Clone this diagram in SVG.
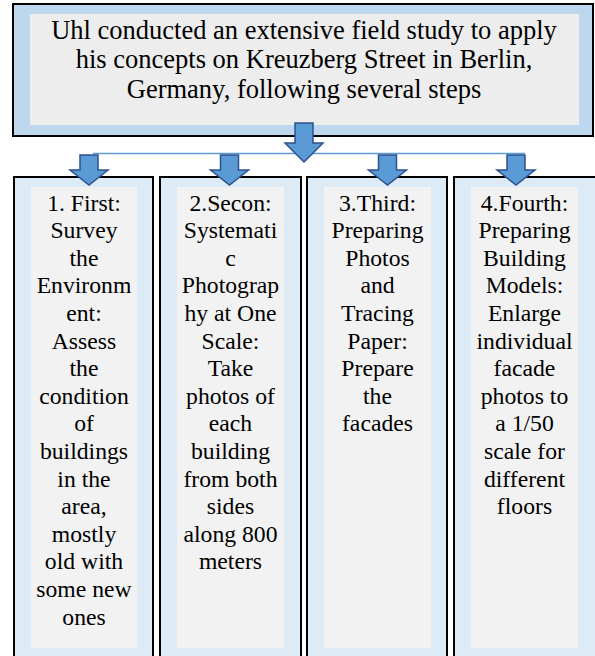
<svg xmlns="http://www.w3.org/2000/svg" width="595" height="656" viewBox="0 0 595 656">
<style>
.outer{fill:#BDD7EE;stroke:#000;stroke-width:2}
.cbox{fill:#DDEBF7;stroke:#000;stroke-width:2}
.inner{fill:#EDEDED}
.cinner{fill:#F2F2F2}
.t{font-family:"Liberation Serif","Times New Roman",serif;fill:#000;text-anchor:middle}
.tt{font-size:26.5px}
.ct{font-size:23.7px}
.arr{fill:#5B9BD5;stroke:#2F528F;stroke-width:1.5;stroke-linejoin:miter}
.hline{stroke:#5B9BD5;stroke-width:1.3;fill:none}
</style>
<rect width="595" height="656" fill="#fff"/>
<g id="top">
<rect class="outer" x="13" y="4" width="580" height="132"/>
<rect class="inner" x="30" y="14" width="549" height="111"/>
<text class="t tt" x="304" y="38.5">Uhl conducted an extensive field study to apply</text>
<text class="t tt" x="304" y="68">his concepts on Kreuzberg Street in Berlin,</text>
<text class="t tt" x="304" y="97.5">Germany, following several steps</text>
</g>
<g id="step1">
<rect class="cbox" x="14" y="177" width="139" height="510"/>
<rect class="cinner" x="31" y="187" width="106" height="461"/>
<text class="t ct" x="84" y="210.5"><tspan x="84">1. First:</tspan><tspan x="84" dy="27.6">Survey</tspan><tspan x="84" dy="27.6">the</tspan><tspan x="84" dy="27.6">Environm</tspan><tspan x="84" dy="27.6">ent:</tspan><tspan x="84" dy="27.6">Assess</tspan><tspan x="84" dy="27.6">the</tspan><tspan x="84" dy="27.6">condition</tspan><tspan x="84" dy="27.6">of</tspan><tspan x="84" dy="27.6">buildings</tspan><tspan x="84" dy="27.6">in the</tspan><tspan x="84" dy="27.6">area,</tspan><tspan x="84" dy="27.6">mostly</tspan><tspan x="84" dy="27.6">old with</tspan><tspan x="84" dy="27.6">some new</tspan><tspan x="84" dy="27.6">ones</tspan></text>
</g>
<g id="step2">
<rect class="cbox" x="160" y="177" width="141" height="510"/>
<rect class="cinner" x="177" y="187" width="107" height="461"/>
<text class="t ct" x="230.5" y="210.5"><tspan x="230.5">2.Secon:</tspan><tspan x="230.5" dy="27.6">Systemati</tspan><tspan x="230.5" dy="27.6">c</tspan><tspan x="230.5" dy="27.6">Photograp</tspan><tspan x="230.5" dy="27.6">hy at One</tspan><tspan x="230.5" dy="27.6">Scale:</tspan><tspan x="230.5" dy="27.6">Take</tspan><tspan x="230.5" dy="27.6">photos of</tspan><tspan x="230.5" dy="27.6">each</tspan><tspan x="230.5" dy="27.6">building</tspan><tspan x="230.5" dy="27.6">from both</tspan><tspan x="230.5" dy="27.6">sides</tspan><tspan x="230.5" dy="27.6">along 800</tspan><tspan x="230.5" dy="27.6">meters</tspan></text>
</g>
<g id="step3">
<rect class="cbox" x="307" y="177" width="140" height="510"/>
<rect class="cinner" x="324" y="187" width="107" height="461"/>
<text class="t ct" x="377.5" y="210.5"><tspan x="377.5">3.Third:</tspan><tspan x="377.5" dy="27.6">Preparing</tspan><tspan x="377.5" dy="27.6">Photos</tspan><tspan x="377.5" dy="27.6">and</tspan><tspan x="377.5" dy="27.6">Tracing</tspan><tspan x="377.5" dy="27.6">Paper:</tspan><tspan x="377.5" dy="27.6">Prepare</tspan><tspan x="377.5" dy="27.6">the</tspan><tspan x="377.5" dy="27.6">facades</tspan></text>
</g>
<g id="step4">
<rect class="cbox" x="454" y="177" width="170" height="510"/>
<rect class="cinner" x="471" y="187" width="107" height="461"/>
<text class="t ct" x="524.5" y="210.5"><tspan x="524.5">4.Fourth:</tspan><tspan x="524.5" dy="27.6">Preparing</tspan><tspan x="524.5" dy="27.6">Building</tspan><tspan x="524.5" dy="27.6">Models:</tspan><tspan x="524.5" dy="27.6">Enlarge</tspan><tspan x="524.5" dy="27.6">individual</tspan><tspan x="524.5" dy="27.6">facade</tspan><tspan x="524.5" dy="27.6">photos to</tspan><tspan x="524.5" dy="27.6">a 1/50</tspan><tspan x="524.5" dy="27.6">scale for</tspan><tspan x="524.5" dy="27.6">different</tspan><tspan x="524.5" dy="27.6">floors</tspan></text>
</g>
<g id="connectors">
<line class="hline" x1="93" y1="153.5" x2="525" y2="153.5"/>
<path class="arr" d="M295,123 H313 V143 H323 L304,162 L285,143 H295 Z"/>
<path class="arr" d="M80,155 H98 V170 H108 L89,185 L70,170 H80 Z"/>
<path class="arr" d="M220.5,155 H238.5 V170 H248.5 L229.5,185 L210.5,170 H220.5 Z"/>
<path class="arr" d="M378.5,155 H396.5 V170 H406.5 L387.5,185 L368.5,170 H378.5 Z"/>
<path class="arr" d="M507,155 H525 V170 H535 L516,185 L497,170 H507 Z"/>
</g>
</svg>
